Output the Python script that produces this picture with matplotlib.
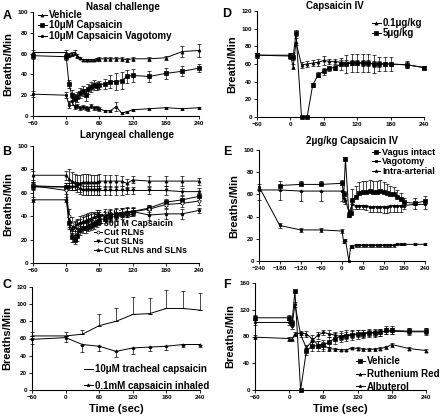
import matplotlib
matplotlib.use("Agg")
import matplotlib.pyplot as plt

plt.rcParams['font.family'] = ['Liberation Sans', 'DejaVu Sans']
plt.rcParams['font.weight'] = 'bold'

# ---- Panel A: nasal challenge ----
t_a = [-60, 0, 5, 10, 15, 20, 25, 30, 35, 40, 45, 50, 55, 60, 70, 80, 90, 100, 110, 120, 150, 180, 210, 240]
a_vehicle = [61, 61, 59, 60, 61, 58, 56, 54, 54, 54, 54, 54, 55, 55, 55, 55, 55, 55, 54, 55, 55, 56, 62, 63]
a_vehicle_err = [2, 2, 2, 2, 2, 2, 1, 1, 1, 1, 1, 1, 1, 2, 2, 2, 2, 2, 2, 2, 2, 2, 5, 6]
a_caps = [58, 57, 31, 20, 16, 18, 22, 24, 20, 26, 28, 30, 29, 30, 31, 33, 33, 34, 38, 39, 38, 41, 43, 46]
a_caps_err = [3, 3, 4, 5, 5, 5, 5, 5, 6, 5, 5, 5, 4, 4, 5, 6, 8, 8, 6, 6, 5, 5, 5, 4]
a_vagot = [21, 20, 11, 14, 9, 10, 8, 9, 8, 7, 10, 8, 8, 7, 5, 5, 9, 3, 4, 6, 7, 8, 7, 8]
a_vagot_err = [3, 3, 3, 3, 2, 2, 2, 2, 2, 2, 2, 2, 2, 2, 1, 1, 4, 1, 1, 1, 1, 1, 1, 1]

# ---- Panel B: laryngeal challenge ----
t_b = t_a
b_vehicle = [75, 75, 72, 70, 69, 68, 68, 69, 69, 69, 69, 69, 69, 70, 70, 70, 70, 70, 68, 71, 70, 70, 70, 70]
b_vehicle_err = [4, 4, 8, 8, 7, 7, 7, 7, 7, 7, 6, 6, 6, 6, 5, 5, 5, 4, 4, 3, 4, 4, 4, 3]
b_caps = [66, 65, 34, 22, 20, 23, 28, 30, 30, 31, 32, 33, 35, 37, 38, 39, 40, 42, 43, 44, 47, 52, 54, 57]
b_caps_err = [3, 3, 5, 4, 4, 4, 4, 4, 4, 4, 4, 4, 4, 4, 4, 4, 4, 4, 4, 3, 3, 3, 3, 3]
b_rln = [66, 62, 40, 33, 30, 32, 34, 35, 36, 37, 38, 38, 39, 40, 41, 41, 42, 43, 43, 44, 46, 50, 51, 53]
b_rln_err = [3, 3, 6, 6, 6, 6, 6, 6, 6, 6, 6, 6, 6, 5, 5, 5, 5, 4, 4, 3, 4, 3, 3, 3]
b_sln = [65, 65, 65, 65, 65, 66, 63, 62, 62, 62, 62, 62, 62, 62, 62, 62, 62, 62, 62, 62, 62, 62, 61, 61]
b_sln_err = [3, 3, 3, 3, 3, 3, 4, 4, 4, 4, 4, 4, 4, 4, 4, 4, 4, 4, 3, 3, 3, 4, 3, 3]
b_both = [54, 54, 35, 29, 31, 33, 34, 35, 36, 37, 38, 39, 40, 40, 40, 41, 42, 43, 44, 44, 41, 42, 42, 45]
b_both_err = [2, 2, 4, 4, 4, 4, 4, 4, 4, 4, 4, 4, 4, 4, 4, 4, 4, 4, 4, 4, 4, 4, 4, 2]

# ---- Panel C: tracheal vs inhaled ----
t_c = [-60, 0, 30, 60, 90, 120, 150, 180, 210, 240]
c_trach = [63, 63, 65, 75, 80, 88, 89, 95, 95, 93]
c_trach_up = [4, 4, 5, 13, 15, 20, 18, 22, 20, 20]
c_inhal = [59, 61, 53, 51, 45, 49, 50, 51, 53, 53]
c_inhal_dn = [5, 5, 9, 5, 6, 7, 5, 4, 3, 3]

# ---- Panel D: capsaicin IV ----
t_d = [-60, 0, 5, 10, 20, 30, 40, 50, 60, 70, 80, 90, 100, 110, 120, 130, 140, 150, 160, 170, 180, 210, 240]
d_low = [70, 70, 57, 85, 59, 60, 61, 62, 64, 63, 63, 62, 62, 62, 62, 61, 61, 60, 60, 60, 60, 59, 56]
d_low_err = [3, 3, 3, 4, 3, 3, 3, 4, 5, 3, 3, 3, 3, 3, 3, 3, 3, 3, 3, 2, 2, 3, 2]
d_high = [70, 69, 68, 95, 0, 0, 36, 48, 52, 55, 56, 60, 60, 61, 61, 61, 61, 60, 60, 60, 60, 59, 56]
d_high_err = [3, 3, 4, 3, 0, 0, 2, 3, 4, 3, 3, 7, 10, 10, 10, 10, 10, 10, 8, 8, 8, 4, 2]

# ---- Panel E: 2ug/kg capsaicin IV ----
t_e_int = [-180, -120, -60, 0, 5, 10, 20, 25, 30, 40, 50, 60, 70, 80, 90, 100, 110, 120, 130, 140, 150, 160, 170, 180, 210, 240]
e_int = [68, 69, 69, 70, 60, 92, 41, 43, 55, 58, 61, 62, 62, 63, 62, 62, 63, 62, 61, 60, 60, 58, 56, 53, 52, 54]
e_int_up = [4, 3, 3, 3, 3, 2, 3, 3, 10, 10, 10, 10, 10, 10, 10, 10, 10, 9, 8, 8, 7, 6, 5, 4, 5, 5]
t_e_vag = [-240, -180, -120, -60, 0, 5, 10, 20, 25, 30, 40, 50, 60, 70, 80, 90, 100, 110, 120, 130, 140, 150, 160, 170, 180, 210, 240]
e_vag = [67, 32, 28, 28, 27, 17, 19, 0, 13, 13, 14, 14, 14, 14, 14, 14, 14, 14, 14, 14, 14, 14, 15, 15, 15, 15, 15]
e_vag_err = [2, 2, 2, 2, 2, 1, 1, 0, 1, 1, 1, 1, 1, 1, 1, 1, 1, 1, 1, 1, 1, 1, 1, 1, 1, 1, 1]
t_e_ia = [-240, -180, -120, -60, 0, 5, 10, 20, 30, 40, 50, 60, 70, 80, 90, 100, 110, 120, 130, 140, 150, 160, 170, 180, 210, 240]
e_ia = [64, 64, 63, 63, 63, 57, 55, 44, 51, 50, 50, 50, 50, 49, 49, 49, 49, 49, 49, 50, 50, 50, 50, 50, 51, 51]
e_ia_dn = [9, 9, 9, 9, 9, 4, 4, 4, 4, 3, 3, 3, 4, 5, 5, 5, 5, 6, 6, 6, 6, 6, 6, 3, 4, 4]

# ---- Panel F: vehicle / ruthenium red / albuterol ----
t_f = [-60, 0, 5, 10, 20, 30, 40, 50, 60, 70, 80, 90, 100, 110, 120, 130, 140, 150, 160, 170, 180, 210, 240]
f_vehicle = [108, 108, 100, 148, 0, 58, 66, 66, 67, 72, 77, 80, 81, 82, 83, 84, 85, 85, 86, 89, 89, 88, 88]
f_vehicle_err = [4, 4, 4, 2, 0, 5, 8, 8, 8, 8, 8, 8, 8, 7, 7, 6, 5, 5, 5, 6, 6, 5, 5]
f_ruth = [79, 77, 76, 84, 85, 84, 77, 68, 67, 62, 61, 60, 60, 63, 62, 61, 61, 61, 62, 64, 68, 62, 59]
f_ruth_err = [3, 3, 3, 3, 3, 4, 5, 5, 5, 3, 2, 2, 2, 2, 2, 2, 2, 2, 2, 2, 3, 2, 2]
f_albut = [101, 101, 96, 128, 83, 63, 73, 82, 86, 84, 82, 80, 82, 83, 84, 85, 86, 86, 86, 88, 88, 87, 87]
f_albut_err = [4, 4, 5, 4, 3, 5, 5, 5, 4, 5, 5, 5, 5, 5, 5, 5, 5, 5, 5, 5, 5, 5, 5]

W, H = 440, 416
fig = plt.figure(figsize=(4.4, 4.16), dpi=100)


def make_ax(x0, x1, ytop, ybot):
    ax = fig.add_axes([x0 / W, 1 - ybot / H, (x1 - x0) / W, (ybot - ytop) / H])
    for s in ("top", "right"):
        ax.spines[s].set_visible(False)
    for s in ("left", "bottom"):
        ax.spines[s].set_linewidth(0.8)
    ax.tick_params(direction="out", length=2, width=0.6, labelsize=4.5, pad=1.5)
    return ax


def series(ax, t, y, err, marker, label, mfc="black", ms=2.2):
    ax.errorbar(t, y, yerr=err, color="black", lw=0.7, marker=marker, ms=ms,
                mfc=mfc, mec="black", mew=0.5, elinewidth=0.5, capsize=1.2,
                capthick=0.5, label=label, clip_on=False)


def legend(ax, x, y, size, spacing=0.05):
    handles, labels = ax.get_legend_handles_labels()
    # keep only the line+marker part of each errorbar container
    handles = [h[0] for h in handles]
    ax.legend(handles, labels, loc="upper left", bbox_to_anchor=(x / W, 1 - y / H),
              bbox_transform=fig.transFigure, frameon=False,
              handlelength=0.9, handletextpad=0.2, labelspacing=spacing,
              borderpad=0, borderaxespad=0, prop={"weight": "bold", "size": size})


def ylab(ax, text):
    ax.set_ylabel(text, fontsize=8, fontweight="bold", labelpad=3)


# A
ax = make_ax(33, 199, 12, 116)
series(ax, t_a, a_vehicle, a_vehicle_err, "^", "Vehicle")
series(ax, t_a, a_caps, a_caps_err, "s", "10\u03bcM Capsaicin")
series(ax, t_a, a_vagot, a_vagot_err, "o", "10\u03bcM Capsaicin Vagotomy", ms=1.8)
ax.set_xlim(-60, 240)
ax.set_ylim(0, 100)
ax.set_xticks(range(-60, 241, 60))
ax.set_yticks(range(0, 101, 20))
ylab(ax, "Breaths/Min")
legend(ax, 38, 10, 7)

# B
ax = make_ax(33, 199, 146, 263)
series(ax, t_b, b_vehicle, b_vehicle_err, "^", "Vehicle")
series(ax, t_b, b_caps, b_caps_err, "s", "30\u03bc M Capsaicin")
series(ax, t_b, b_rln, b_rln_err, "o", "Cut RLNs", mfc="white")
series(ax, t_b, b_sln, b_sln_err, "v", "Cut SLNs")
series(ax, t_b, b_both, b_both_err, "*", "Cut RLNs and SLNs", ms=2.8)
ax.set_xlim(-60, 240)
ax.set_ylim(0, 100)
ax.set_xticks(range(-60, 241, 60))
ax.set_yticks(range(0, 101, 20))
ylab(ax, "Breaths/Min")
legend(ax, 94, 210, 6.3, spacing=0.0)

# C
ax = make_ax(32, 200, 287, 390)
series(ax, t_c, c_trach, [[0] * len(c_trach), c_trach_up], "_", "10\u03bcM tracheal capsaicin", ms=3)
series(ax, t_c, c_inhal, [c_inhal_dn, [2, 2] + [0] * (len(c_inhal) - 2)], "*", "0.1mM capsaicin inhaled", ms=2.5)
ax.set_xlim(-60, 240)
ax.set_ylim(0, 120)
ax.set_xticks(range(-60, 241, 60))
ax.set_yticks(range(0, 121, 20))
ylab(ax, "Breaths/Min")
ax.set_xlabel("Time (sec)", fontsize=8, fontweight="bold", labelpad=3)
legend(ax, 84, 364, 7, spacing=0.7)

# D
ax = make_ax(257, 424, 11, 117)
series(ax, t_d, d_low, d_low_err, "^", "0.1\u03bcg/kg")
series(ax, t_d, d_high, d_high_err, "s", "5\u03bcg/kg")
ax.set_xlim(-60, 240)
ax.set_ylim(0, 120)
ax.set_xticks(range(-60, 241, 60))
ax.set_yticks(range(0, 121, 20))
ylab(ax, "Breath/Min")
legend(ax, 372, 18, 7)

# E
ax = make_ax(259, 425, 150, 261)
series(ax, t_e_int, e_int, [[0] * len(e_int), e_int_up], "s", "Vagus intact")
series(ax, t_e_vag, e_vag, e_vag_err, "o", "Vagotomy", ms=1.8)
series(ax, t_e_ia, e_ia, [e_ia_dn, [0] * len(e_ia)], "*", "Intra-arterial", ms=2.5)
ax.set_xlim(-240, 240)
ax.set_ylim(0, 100)
ax.set_xticks(range(-240, 241, 60))
ax.set_yticks(range(0, 101, 20))
ylab(ax, "Breaths/Min")
legend(ax, 372, 148, 6.5)

# F
ax = make_ax(255, 426, 283, 390)
series(ax, t_f, f_vehicle, f_vehicle_err, "s", "Vehicle")
series(ax, t_f, f_ruth, f_ruth_err, "^", "Ruthenium Red")
series(ax, t_f, f_albut, f_albut_err, "*", "Albuterol", ms=2.5)
ax.set_xlim(-60, 240)
ax.set_ylim(0, 160)
ax.set_xticks(range(-60, 241, 60))
ax.set_yticks(range(0, 161, 40))
ylab(ax, "Breaths/Min")
ax.set_xlabel("Time (sec)", fontsize=8, fontweight="bold", labelpad=3)
legend(ax, 356, 356, 7, spacing=0.3)

# titles and panel letters
fig.text(123 / W, 1 - 7 / H, "Nasal challenge", ha="center", va="center", fontsize=7, fontweight="bold")
fig.text(127 / W, 1 - 135 / H, "Laryngeal challenge", ha="center", va="center", fontsize=7, fontweight="bold")
fig.text(335 / W, 1 - 6 / H, "Capsaicin IV", ha="center", va="center", fontsize=7, fontweight="bold")
fig.text(352 / W, 1 - 141 / H, "2\u03bcg/kg Capsaicin IV", ha="center", va="center", fontsize=7, fontweight="bold")
for letter, x, y in [("A", 7, 16), ("B", 7, 152), ("C", 7, 285), ("D", 227, 14), ("E", 227, 152), ("F", 227, 285)]:
    fig.text(x / W, 1 - y / H, letter, ha="center", va="center", fontsize=9, fontweight="bold")

fig.savefig("out.png", dpi=100)
